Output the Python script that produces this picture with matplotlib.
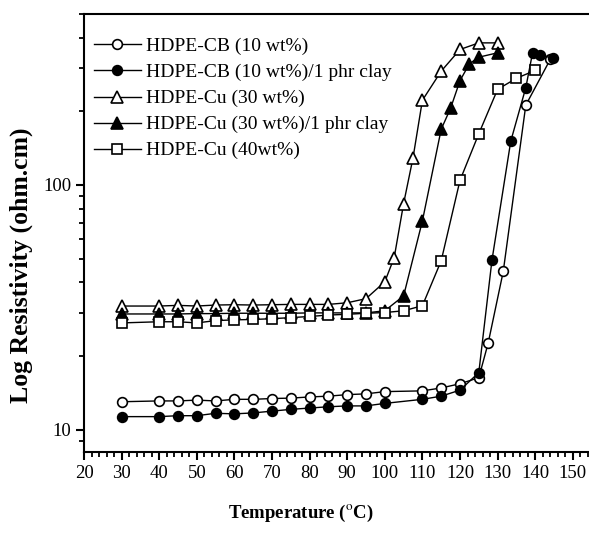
import matplotlib
matplotlib.use("Agg")
import matplotlib.pyplot as plt
from matplotlib.ticker import MultipleLocator, LogLocator, NullFormatter

plt.rcParams['font.family'] = ['Liberation Serif', 'DejaVu Serif']
plt.rcParams['mathtext.fontset'] = 'stix'

# --- data ---
cb_t = [30, 40, 45, 50, 55, 60, 65, 70, 75, 80, 85, 90, 95, 100, 110, 115,
        120, 125, 127.5, 131.5, 137.5, 144]
cb_r = [13.0, 13.1, 13.1, 13.2, 13.1, 13.3, 13.3, 13.4, 13.45, 13.6, 13.7,
        13.9, 14.0, 14.3, 14.4, 14.8, 15.4, 16.3, 22.6, 44.3, 212, 326]

cbclay_t = [30, 40, 45, 50, 55, 60, 65, 70, 75, 80, 85, 90, 95, 100, 110, 115,
            120, 125, 128.5, 133.5, 137.5, 139.3, 141.3, 144.7]
cbclay_r = [11.3, 11.3, 11.4, 11.4, 11.66, 11.6, 11.7, 11.9, 12.1, 12.25, 12.4,
            12.5, 12.5, 12.8, 13.3, 13.7, 14.5, 17.1, 49.3, 151, 250, 347, 341, 329]

cu30_t = [30, 40, 45, 50, 55, 60, 65, 70, 75, 80, 85, 90, 95, 100, 102.5,
          105, 107.5, 110, 115, 120, 125, 130]
cu30_r = [32.0, 32.0, 32.2, 32.0, 32.3, 32.4, 32.3, 32.4, 32.5, 32.5, 32.5,
          33.0, 34.3, 40.2, 50.5, 83.9, 129, 222, 292, 358, 381, 381]

cu30clay_t = [30, 40, 45, 50, 55, 60, 65, 70, 75, 80, 85, 90, 95, 100, 105,
              110, 115, 117.5, 120, 122.5, 125, 130]
cu30clay_r = [29.7, 29.7, 29.7, 29.8, 29.8, 29.9, 29.9, 29.9, 29.9, 30.0, 30.0,
              30.0, 30.0, 30.6, 35.2, 71.3, 169, 206, 267, 313, 333, 347]

cu40_t = [30, 40, 45, 50, 55, 60, 65, 70, 75, 80, 85, 90, 95, 100, 105, 110,
          115, 120, 125, 130, 135, 140]
cu40_r = [27.3, 27.6, 27.6, 27.3, 27.9, 28.1, 28.2, 28.4, 28.7, 29.0, 29.4,
          29.6, 29.9, 30.1, 30.6, 32.1, 49, 104.5, 162, 246, 273, 294]

labels = ["HDPE-CB (10 wt%)", "HDPE-CB (10 wt%)/1 phr clay",
          "HDPE-Cu (30 wt%)", "HDPE-Cu (30 wt%)/1 phr clay",
          "HDPE-Cu (40wt%)"]

fig = plt.figure(figsize=(5.89, 5.33), dpi=100)
ax = fig.add_axes([84 / 589, 81 / 533, 507.6 / 589, 438 / 533])

common = dict(color='black', lw=1.0, mew=1.2, mec='black')
ax.plot(cb_t, cb_r, marker='o', ms=7, mfc='white', label=labels[0], **common)
ax.plot(cbclay_t, cbclay_r, marker='o', ms=7, mfc='black', label=labels[1], **common)
ax.plot(cu30_t, cu30_r, marker='^', ms=8, mfc='white', label=labels[2], **common)
ax.plot(cu30clay_t, cu30clay_r, marker='^', ms=8, mfc='black', label=labels[3], **common)
ax.plot(cu40_t, cu40_r, marker='s', ms=6.5, mfc='white', label=labels[4], **common)

ax.set_yscale('log')
ax.set_ylim(8.1, 500)
ax.set_xlim(20, 155)

ax.set_xticks(range(20, 151, 10))
ax.xaxis.set_minor_locator(MultipleLocator(2))
ax.set_yticks([10, 100])
ax.set_yticklabels(['10', '100'])
ax.yaxis.set_minor_locator(LogLocator(base=10, subs=range(2, 10)))
ax.yaxis.set_minor_formatter(NullFormatter())

ax.tick_params(which='major', direction='out', length=6, width=1.5,
               labelsize=13.5, pad=3)
ax.tick_params(which='minor', direction='out', length=3.5, width=1.3)

for s in ax.spines.values():
    s.set_linewidth(1.5)

ax.set_xlabel(r"Temperature ($^{\rm o}$C)", fontsize=13.5, fontweight='bold')
ax.xaxis.set_label_coords((301 - 84) / 507.6, -(503 - 452) / 438)
ax.set_ylabel("Log Resistivity (ohm.cm)", fontsize=18.5, fontweight='bold')
ax.yaxis.set_label_coords(-(84 - 33) / 507.6, 0.5 - (265 - 233) / 438)

ax.legend(loc='upper left', bbox_to_anchor=(0.02, 0.946), frameon=False,
          fontsize=14, handlelength=2.4, handletextpad=0.25,
          labelspacing=0.43, borderpad=0, borderaxespad=0)

fig.savefig("out.png", dpi=100)
